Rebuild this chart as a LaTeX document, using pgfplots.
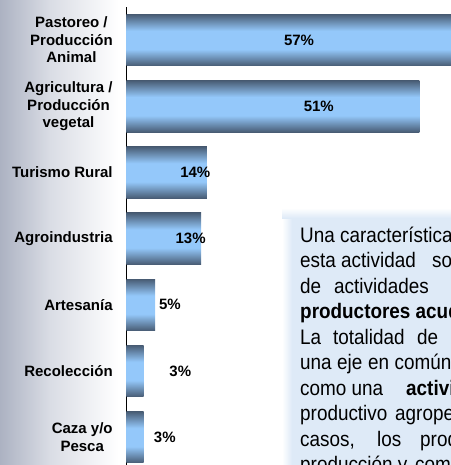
\documentclass[border=0pt]{standalone}
\usepackage{fontspec}
\setmainfont{Liberation Sans}
\newfontfamily\boxfont[FakeStretch=0.9]{Liberation Sans}
\usepackage{pgfplots}
\pgfplotsset{compat=1.18}

\definecolor{bardark}{RGB}{72,92,116}
\definecolor{barlight}{RGB}{148,200,250}
\definecolor{leftgrey}{RGB}{172,178,194}
\definecolor{leftmid}{RGB}{218,221,229}
\definecolor{boxblue}{RGB}{222,234,247}

\pgfdeclareverticalshading{barshade}{100bp}{color(0bp)=(bardark); color(25bp)=(bardark);
  color(41bp)=(barlight); color(59bp)=(barlight); color(75bp)=(bardark); color(100bp)=(bardark)}
\pgfdeclarehorizontalshading{leftbg}{100bp}{color(0bp)=(leftgrey); color(25bp)=(leftgrey);
  color(45bp)=(leftmid); color(72bp)=(white); color(100bp)=(white)}

\pgfplotsset{gradbar/.style={xbar, bar width=51.5bp, draw=none, shade, shading=barshade}}

% one word of the text box, placed on its baseline (x, y in px from top left)
\newcommand\w[3]{\node[anchor=base west, inner sep=0pt,
  font=\boxfont\fontsize{21bp}{25bp}\selectfont] at (#1bp,-#2bp) {#3};}

\begin{document}
\begin{tikzpicture}
\useasboundingbox (0,0) rectangle (451bp,-465bp);
\clip (0,0) rectangle (451bp,-465bp);

% backgrounds
\shade[shading=leftbg] (0,0) rectangle (126bp,-465bp);
\fill[boxblue] (290bp,-216bp) rectangle (451bp,-465bp);
\shade[left color=white, right color=boxblue] (282bp,-216bp) rectangle (292bp,-465bp);
\shade[top color=white, bottom color=boxblue] (282bp,-208bp) rectangle (451bp,-218bp);

\begin{axis}[
  at={(126.3bp,-7bp)}, anchor=north west,
  scale only axis, width=324.7bp, height=458bp,
  xmin=0, xmax=56.5, ymin=-0.5, ymax=6.42,
  y dir=reverse,
  axis x line=none, axis y line=left,
  y axis line style={-, line width=1.5bp, black},
  ytick={0,...,6},
  yticklabels={{Pastoreo /\\Producción\\Animal},{Agricultura /\\Producción\\vegetal},
    Turismo Rural,Agroindustria,Artesanía,Recolección,{Caza y/o\\Pesca}},
  ytick style={draw=none},
  yticklabel style={align=center, inner sep=0pt, xshift=-11.3bp,
    font=\fontsize{15bp}{17.5bp}\selectfont\bfseries},
]
% one plot per bar so that each bar gets its own gradient
\addplot[gradbar] coordinates {(57,0)};
\addplot[gradbar] coordinates {(51,1)};
\addplot[gradbar] coordinates {(14,2)};
\addplot[gradbar] coordinates {(13,3)};
\addplot[gradbar] coordinates {(5,4)};
\addplot[gradbar] coordinates {(3,5)};
\addplot[gradbar] coordinates {(3,6)};
\addplot[draw=none, mark=none, nodes near coords, point meta=explicit symbolic,
  every node near coord/.append style={anchor=center, inner sep=0pt,
    font=\fontsize{15bp}{17bp}\selectfont\bfseries}] coordinates {
  (30.06,0) [57\%] (33.5,1) [51\%] (12.0,2) [14\%] (11.2,3) [13\%]
  (7.6,4) [5\%] (9.4,5) [3\%] (6.7,6) [3\%]
};
\end{axis}

% text box (cut off at the right edge)
\w{300}{242}{Una} \w{340}{242}{característica}
\w{300}{267.5}{esta} \w{341}{267.5}{actividad} \w{432}{267.5}{son}
\w{300}{293}{de} \w{334}{293}{actividades}
\w{300}{318.5}{\bfseries productores acuden}
\w{300}{344}{La} \w{333}{344}{totalidad} \w{417}{344}{de}
\w{300}{369.5}{una} \w{337}{369.5}{eje} \w{368}{369.5}{en} \w{394.5}{369.5}{común}
\w{300}{395}{como} \w{351.5}{395}{una} \w{406}{395}{\bfseries actividad}
\w{300}{420.5}{productivo} \w{395}{420.5}{agropecuario}
\w{300}{446}{casos,} \w{377}{446}{los} \w{420}{446}{productores}
\w{300}{471.5}{producción} \w{397.7}{471.5}{y} \w{415}{471.5}{comercialización}
\end{tikzpicture}
\end{document}
